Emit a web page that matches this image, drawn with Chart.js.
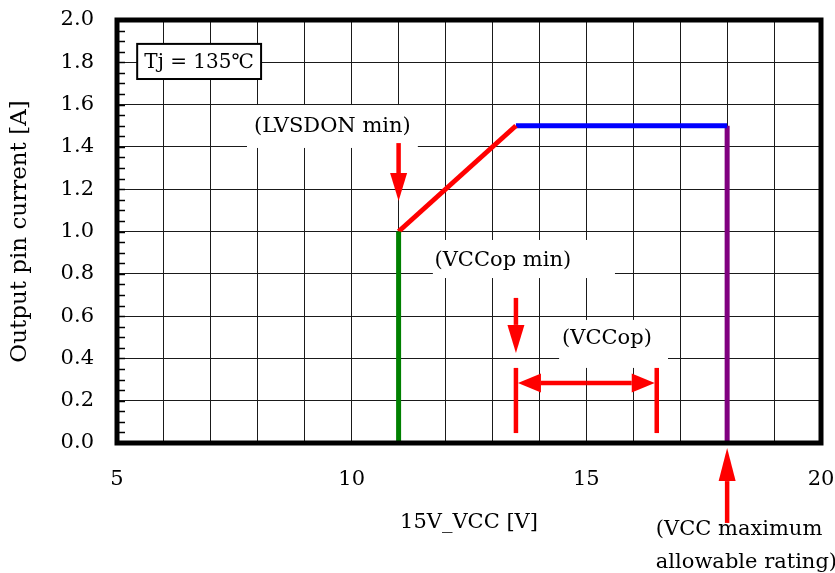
<!DOCTYPE html>
<html>
<head>
<meta charset="utf-8">
<script src="https://cdn.jsdelivr.net/npm/chart.js@4/dist/chart.umd.min.js"></script>
<style>
    body { margin: 0; background: #fff; }
</style>
</head>
<body>
<canvas id="chart" width="835" height="573"></canvas>
<script>
// Curve segments (15V_VCC [V] vs output pin current [A])
const startX = [11, 11]
const startY = [0.0, 1.0]
const rampX = [11, 13.5]
const rampY = [1.0, 1.5]
const flatX = [13.5, 18]
const flatY = [1.5, 1.5]
const maxX = [18, 18]
const maxY = [1.5, 0.0]

// Axes
const xRange = [5, 20]
const yRange = [0, 2.0]
const xTickLabels = [5, 10, 15, 20]

// Annotations, in data units
const downArrows = [[11, 1.418, 1.144], [13.5, 0.686, 0.426]]
const upArrow = [18, -0.378, -0.024]
const vccopX = [13.5, 16.5]
const vccopBarY = [0.047, 0.355]
const vccopArrowY = 0.284
const noteTexts = ['(LVSDON min)', '(VCCop min)', '(VCCop)']
const noteBoxes = [[7.77, 11.41, 1.395, 1.598], [11.73, 15.61, 0.78, 0.96], [14.42, 16.74, 0.355, 0.582]]
const noteCenters = [[9.59, 1.496], [13.22, 0.865], [15.44, 0.492]]
const tjText = 'Tj = 135℃'
const tjBox = [5.43, 8.07, 1.721, 1.887]
const ratingText = ['(VCC maximum', 'allowable rating)']
const ratingPos = [16.48, -0.411, -0.563]

const FONT = '"DejaVu Serif", serif'

const toPairs = (xs, ys) => xs.map((x, i) => ({ x: x, y: ys[i] }))

const segment = (xs, ys, color) => ({
    data: toPairs(xs, ys),
    showLine: true,
    borderColor: color,
    backgroundColor: color,
    borderWidth: 5,
    pointRadius: 0,
    borderCapStyle: 'butt'
})

const arrow = (ctx, x1, y1, x2, y2, headLen, headHalf) => {
    const a = Math.atan2(y2 - y1, x2 - x1)
    const bx = x2 - headLen * Math.cos(a)
    const by = y2 - headLen * Math.sin(a)
    ctx.beginPath()
    ctx.moveTo(x1, y1)
    ctx.lineTo(bx, by)
    ctx.stroke()
    ctx.beginPath()
    ctx.moveTo(x2, y2)
    ctx.lineTo(bx + headHalf * Math.sin(a), by - headHalf * Math.cos(a))
    ctx.lineTo(bx - headHalf * Math.sin(a), by + headHalf * Math.cos(a))
    ctx.closePath()
    ctx.fill()
}

// drop the extra room chart.js keeps for edge labels
const noEdgePadding = scale => {
    scale.paddingTop = 0
    scale.paddingBottom = 0
    scale.paddingLeft = 0
    scale.paddingRight = 0
}

const notesPlugin = {
    id: 'notes',
    beforeDatasetsDraw(chart) {
        const { ctx, scales: { x, y } } = chart
        ctx.save()
        // white label boxes hide the grid
        ctx.fillStyle = '#fff'
        noteBoxes.forEach(b => {
            const l = x.getPixelForValue(b[0]), r = x.getPixelForValue(b[1])
            const bt = y.getPixelForValue(b[3]), bb = y.getPixelForValue(b[2])
            ctx.fillRect(l, bt, r - l, bb - bt)
        })
        ctx.fillStyle = '#000'
        ctx.font = '21px ' + FONT
        ctx.textAlign = 'center'
        ctx.textBaseline = 'middle'
        noteTexts.forEach((t, i) => {
            ctx.fillText(t, x.getPixelForValue(noteCenters[i][0]), y.getPixelForValue(noteCenters[i][1]))
        })
        ctx.restore()
    },
    afterDraw(chart) {
        const { ctx, chartArea: area, scales: { x, y } } = chart
        ctx.save()

        // minor ticks on the left axis
        ctx.strokeStyle = '#000'
        ctx.lineWidth = 1.5
        for (let i = 0; i <= 40; i++) {
            const py = Math.round(y.getPixelForValue(i * 0.05)) + 0.5
            ctx.beginPath()
            ctx.moveTo(area.left, py)
            ctx.lineTo(area.left + 8, py)
            ctx.stroke()
        }

        // frame
        ctx.lineWidth = 5
        ctx.strokeRect(area.left, area.top, area.right - area.left, area.bottom - area.top)

        // Tj box
        const tl = x.getPixelForValue(tjBox[0]), tr = x.getPixelForValue(tjBox[1])
        const tt = y.getPixelForValue(tjBox[3]), tb = y.getPixelForValue(tjBox[2])
        ctx.fillStyle = '#fff'
        ctx.fillRect(tl, tt, tr - tl, tb - tt)
        ctx.lineWidth = 2
        ctx.strokeRect(tl, tt, tr - tl, tb - tt)
        ctx.fillStyle = '#000'
        ctx.font = '20px ' + FONT
        ctx.textAlign = 'center'
        ctx.textBaseline = 'middle'
        ctx.fillText(tjText, (tl + tr) / 2, (tt + tb) / 2 + 1)

        // rating note under the chart
        ctx.font = '21px ' + FONT
        ctx.textAlign = 'left'
        ctx.fillText(ratingText[0], x.getPixelForValue(ratingPos[0]), y.getPixelForValue(ratingPos[1]))
        ctx.fillText(ratingText[1], x.getPixelForValue(ratingPos[0]), y.getPixelForValue(ratingPos[2]))

        // red arrows
        ctx.strokeStyle = '#ff0000'
        ctx.fillStyle = '#ff0000'
        ctx.lineWidth = 4.5
        downArrows.forEach(a => {
            const ax = x.getPixelForValue(a[0])
            arrow(ctx, ax, y.getPixelForValue(a[1]), ax, y.getPixelForValue(a[2]), 28, 8.5)
        })
        const ux = x.getPixelForValue(upArrow[0])
        arrow(ctx, ux, y.getPixelForValue(upArrow[1]), ux, y.getPixelForValue(upArrow[2]), 33, 8.5)

        // VCCop range bracket
        const l = x.getPixelForValue(vccopX[0]), r = x.getPixelForValue(vccopX[1])
        vccopX.forEach(v => {
            const bx = x.getPixelForValue(v)
            ctx.beginPath()
            ctx.moveTo(bx, y.getPixelForValue(vccopBarY[0]))
            ctx.lineTo(bx, y.getPixelForValue(vccopBarY[1]))
            ctx.stroke()
        })
        const ay = y.getPixelForValue(vccopArrowY)
        const mid = (l + r) / 2
        arrow(ctx, mid, ay, l + 2, ay, 23, 9.5)
        arrow(ctx, mid, ay, r - 2, ay, 23, 9.5)

        ctx.restore()
    }
}

window.addEventListener('load', () => {
    const el = document.getElementById('chart')
    new Chart(el, {
        type: 'scatter',
        data: {
            datasets: [
                segment(startX, startY, '#008000'),
                segment(rampX, rampY, '#ff0000'),
                segment(flatX, flatY, '#0000ff'),
                segment(maxX, maxY, '#800080')
            ]
        },
        options: {
            responsive: false,
            animation: false,
            layout: { padding: { top: 20, right: 14, bottom: 0, left: 0 } },
            plugins: {
                legend: { display: false },
                tooltip: { enabled: false }
            },
            scales: {
                x: {
                    type: 'linear',
                    min: xRange[0],
                    max: xRange[1],
                    afterFit: scale => {
                        scale.height = 130
                        noEdgePadding(scale)
                    },
                    border: { display: false },
                    grid: { color: '#1a1a1a', lineWidth: 1, drawTicks: false },
                    ticks: {
                        stepSize: 1,
                        padding: 24,
                        color: '#000',
                        font: { family: FONT, size: 21 },
                        maxRotation: 0,
                        autoSkip: false,
                        callback: v => xTickLabels.includes(v) ? String(v) : ''
                    },
                    title: {
                        display: true,
                        text: '15V_VCC [V]',
                        color: '#000',
                        font: { family: FONT, size: 21 },
                        padding: { top: 0, bottom: 38 }
                    }
                },
                y: {
                    type: 'linear',
                    min: yRange[0],
                    max: yRange[1],
                    afterFit: scale => {
                        scale.width = 117
                        noEdgePadding(scale)
                    },
                    border: { display: false },
                    grid: { color: '#1a1a1a', lineWidth: 1, drawTicks: false },
                    ticks: {
                        stepSize: 0.2,
                        padding: 23,
                        color: '#000',
                        font: { family: FONT, size: 21 },
                        callback: v => v.toFixed(1)
                    },
                    title: {
                        display: true,
                        text: 'Output pin current [A]',
                        color: '#000',
                        font: { family: FONT, size: 23 },
                        padding: { top: 6, bottom: 0 }
                    }
                }
            }
        },
        plugins: [notesPlugin]
    })
})
</script>
</body>
</html>
